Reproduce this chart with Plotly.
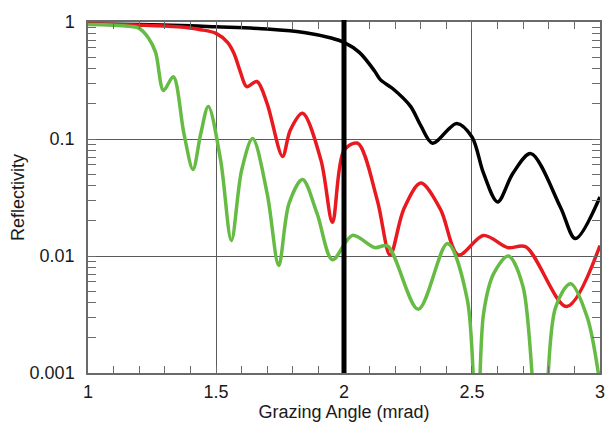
import plotly.graph_objects as go

# Grazing angle (mrad) and reflectivity
black_x = [1.00, 1.20, 1.40, 1.50, 1.70, 1.85, 1.95, 2.00, 2.06, 2.12, 2.143, 2.19, 2.26, 2.30, 2.346, 2.44, 2.50, 2.545, 2.60, 2.66, 2.73, 2.846, 2.904, 3.00]
black_y = [0.96, 0.95, 0.93, 0.91, 0.87, 0.81, 0.73, 0.67, 0.55, 0.38, 0.32, 0.27, 0.19, 0.13, 0.092, 0.136, 0.104, 0.051, 0.029, 0.051, 0.075, 0.026, 0.0141, 0.032]

red_x = [1.00, 1.20, 1.35, 1.44, 1.50, 1.545, 1.57, 1.596, 1.62, 1.66, 1.70, 1.76, 1.79, 1.838, 1.91, 1.955, 2.00, 2.053, 2.13, 2.18, 2.233, 2.30, 2.377, 2.447, 2.545, 2.64, 2.71, 2.87, 3.00]
red_y = [0.96, 0.94, 0.91, 0.86, 0.80, 0.67, 0.54, 0.37, 0.28, 0.31, 0.20, 0.071, 0.119, 0.166, 0.066, 0.0194, 0.08, 0.092, 0.030, 0.0102, 0.025, 0.042, 0.025, 0.0102, 0.015, 0.0118, 0.012, 0.0037, 0.0123]

green_x = [1.00, 1.10, 1.158, 1.197, 1.236, 1.264, 1.295, 1.333, 1.375, 1.41, 1.44, 1.47, 1.518, 1.56, 1.60, 1.643, 1.70, 1.745, 1.785, 1.838, 1.895, 1.955, 2.033, 2.12, 2.17, 2.29, 2.404, 2.482, 2.519, 2.545, 2.585, 2.642, 2.70, 2.77, 2.826, 2.885, 2.95, 3.00]
green_y = [0.95, 0.94, 0.92, 0.89, 0.73, 0.55, 0.26, 0.34, 0.11, 0.055, 0.11, 0.19, 0.066, 0.0136, 0.054, 0.101, 0.034, 0.0083, 0.028, 0.045, 0.023, 0.0093, 0.015, 0.0118, 0.0122, 0.0035, 0.0128, 0.0042, 0.0002, 0.0032, 0.0071, 0.010, 0.0054, 0.0001, 0.0036, 0.0058, 0.0030, 0.0008]

x_ticks = [1, 1.5, 2, 2.5, 3]
x_labels = ["1", "1.5", "2", "2.5", "3"]
y_ticks = [0.001, 0.01, 0.1, 1]
y_labels = ["0.001", "0.01", "0.1", "1"]
marker_angle = 2.0

FONT = "Liberation Sans, Arial, sans-serif"

fig = go.Figure()
for xs, ys, col, w in [(black_x, black_y, "#000000", 3.5),
                       (red_x, red_y, "#e8191f", 3.5),
                       (green_x, green_y, "#66bb44", 3.5)]:
    fig.add_trace(go.Scatter(x=xs, y=ys, mode="lines",
                             line=dict(color=col, width=w, shape="spline", smoothing=0.9),
                             showlegend=False, hoverinfo="skip", cliponaxis=True))

fig.add_shape(type="line", xref="x", yref="paper", x0=marker_angle, x1=marker_angle,
              y0=0, y1=1.006, line=dict(color="#000000", width=5))

axis_common = dict(showline=True, linecolor="#6a6a6a", linewidth=1.5, mirror="ticks",
                   showgrid=True, gridcolor="#5a5a5a", gridwidth=1, zeroline=False,
                   ticks="inside", tickcolor="#6a6a6a", tickwidth=1, automargin=False,
                   tickfont=dict(family=FONT, size=18, color="#1a1a1a"))

fig.update_xaxes(range=[0.9999, 3.0001], tickvals=x_ticks, ticktext=x_labels, ticklen=0,
                 ticklabelstandoff=2,
                 minor=dict(dtick=0.1, tick0=1, ticks="inside", ticklen=7, tickcolor="#6a6a6a", showgrid=False),
                 title=dict(text="Grazing Angle (mrad)", font=dict(family=FONT, size=18, color="#1a1a1a"), standoff=8),
                 **axis_common)
fig.update_yaxes(type="log", range=[-3, 0], tickvals=y_ticks, ticktext=y_labels, ticklen=0,
                 ticklabelstandoff=8,
                 minor=dict(dtick="D1", ticks="inside", ticklen=8, tickcolor="#6a6a6a", showgrid=False),
                 title=dict(text="Reflectivity", font=dict(family=FONT, size=18, color="#1a1a1a"), standoff=0),
                 **axis_common)

fig.update_layout(width=607, height=422, margin=dict(l=88, r=7, t=22, b=49),
                  plot_bgcolor="white", paper_bgcolor="white",
                  font=dict(family=FONT))

# remove the default page margin so the figure fills the window exactly
fig.write_html("out.html", config={"displayModeBar": False},
               post_script="document.body.style.margin='0';document.body.style.overflow='hidden';")
